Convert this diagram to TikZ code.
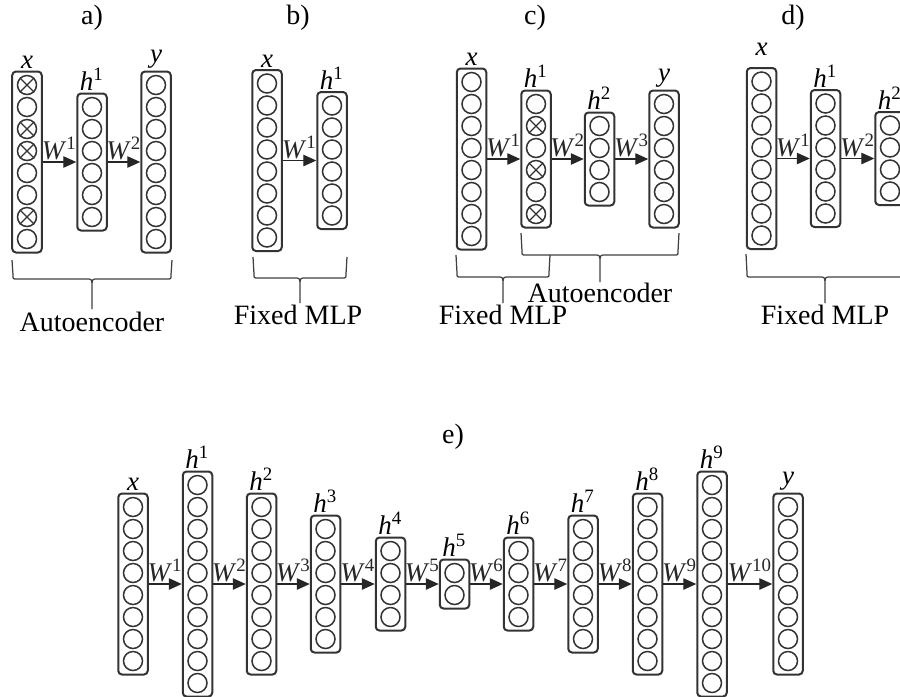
\documentclass[tikz,border=0pt]{standalone}
\usepackage{fontspec}
\setmainfont{Liberation Serif}
\usetikzlibrary{arrows.meta,calc}

\newcommand{\lab}[2]{\textit{#1}\textsuperscript{#2}}
% one layer: name, x, row y, number of units, label
\newcommand{\netlayer}[5]{%
  \node[layer, minimum height={(22*#4+5)*0.4pt}] (#1) at (#2,#3) {};
  \foreach \k in {1,...,#4}
    \node[unit] (#1-\k) at ($(#1.center)+(0,{(\k-(#4+1)/2)*22})$) {};
  \node[tag] (#1-tag) at (#1.north) {#5};
}
% crossed (dropped) unit
\newcommand{\dropunit}[1]{%
  \draw[line width=0.5pt, black!80] (#1.north west) -- (#1.south east)
    (#1.north east) -- (#1.south west);
}
% square-ish brace: x left, x right, y top, y bar, y tip
\newcommand{\bracket}[5]{%
  \draw[curly] (#1,#3) -- (#1+1,#4-4) .. controls (#1+1,#4) .. (#1+5,#4)
    -- ({(#1+#2)/2-5},#4) .. controls ({(#1+#2)/2},#4) .. ({(#1+#2)/2},#4+9)
    -- ({(#1+#2)/2},#5)
    ({(#1+#2)/2},#4+9) .. controls ({(#1+#2)/2},#4) .. ({(#1+#2)/2+5},#4)
    -- (#2-5,#4) .. controls (#2-1,#4) .. (#2-1,#4-4) -- (#2,#3);
}

\begin{document}
\begin{tikzpicture}[
  x=0.4pt,
  y=-0.4pt,
  >={Triangle[length=5.2pt,width=4.6pt]},
  layer/.style={draw=black!80, line width=0.8pt, rounded corners=1.5pt, minimum width=11.8pt, inner sep=0pt},
  unit/.style={draw=black!80, circle, line width=0.6pt, minimum size=7.6pt, inner sep=0pt},
  tag/.style={anchor=south, inner sep=0.6pt, font=\fontsize{10.8}{12}\selectfont},
  caption/.style={font=\fontsize{11.2}{13}\selectfont, inner sep=0pt},
  link/.style={->, line width=0.5pt, black!85},
  weight/.style={midway, above, inner sep=0.5pt, font=\fontsize{10.8}{12}\selectfont},
  curly/.style={line width=0.5pt, black!75}
]
\useasboundingbox (0,0) rectangle (900,696);
\clip (0,0) rectangle (900,696);

% a) autoencoder with corrupted input
\node[caption] (a-title) at (92,18) {a)};
\netlayer{a-x}{27}{162}{8}{\textit{x}}
\netlayer{a-h1}{92}{162}{6}{\lab{h}{1}}
\netlayer{a-y}{156}{162}{8}{\textit{y}}
\foreach \k in {1,3,4,7} {\dropunit{a-x-\k}}
\draw[link] (a-x.east) -- (a-h1.west) node[weight] {\lab{W}{1}};
\draw[link] (a-h1.east) -- (a-y.west) node[weight] {\lab{W}{2}};
\bracket{12}{172}{260}{279}{309}
\node[caption, anchor=base] (a-cap) at (92,331) {Autoencoder};

% b) fixed first layer
\node[caption] (b-title) at (298,18) {b)};
\netlayer{b-x}{267}{160.5}{8}{\textit{x}}
\netlayer{b-h1}{332}{160.5}{6}{\lab{h}{1}}
\draw[link] (b-x.east) -- (b-h1.west) node[weight] {\lab{W}{1}};
\bracket{253}{347}{257}{278}{303}
\node[caption, anchor=base] (b-cap) at (298,324) {Fixed MLP};

% c) second autoencoder on top
\node[caption] (c-title) at (535,18) {c)};
\netlayer{c-x}{471.5}{159}{8}{\textit{x}}
\netlayer{c-h1}{536}{159}{6}{\lab{h}{1}}
\netlayer{c-h2}{599.5}{159}{4}{\lab{h}{2}}
\netlayer{c-y}{664}{159}{6}{\textit{y}}
\foreach \k in {2,4,6} {\dropunit{c-h1-\k}}
\draw[link] (c-x.east) -- (c-h1.west) node[weight] {\lab{W}{1}};
\draw[link] (c-h1.east) -- (c-h2.west) node[weight] {\lab{W}{2}};
\draw[link] (c-h2.east) -- (c-y.west) node[weight] {\lab{W}{3}};
\bracket{456}{550}{255}{277}{303}
\bracket{521}{679}{233}{255}{282}
\node[caption, anchor=base] (c-cap1) at (503,324) {Fixed MLP};
\node[caption, anchor=base] (c-cap2) at (600,302) {Autoencoder};

% d) fixed two layers
\node[caption] (d-title) at (793,18) {d)};
\netlayer{d-x}{761.5}{158.5}{8}{\raisebox{4pt}{\textit{x}}}
\netlayer{d-h1}{825.5}{158.5}{6}{\lab{h}{1}}
\netlayer{d-h2}{890}{158.5}{4}{\lab{h}{2}}
\draw[link] (d-x.east) -- (d-h1.west) node[weight] {\lab{W}{1}};
\draw[link] (d-h1.east) -- (d-h2.west) node[weight] {\lab{W}{2}};
\bracket{746}{904}{254}{277}{303}
\node[caption, anchor=base] (d-cap) at (825,324) {Fixed MLP};

% e) deep stacked network
\node[caption] (e-title) at (453,437) {e)};
\foreach \nm/\cx/\n/\lb in {x/133/8/\textit{x}, h1/197.5/10/{\lab{h}{1}}, h2/261.5/8/{\lab{h}{2}},
    h3/325.5/6/{\lab{h}{3}}, h4/390.5/4/{\lab{h}{4}}, h5/454.5/2/{\lab{h}{5}},
    h6/518.5/4/{\lab{h}{6}}, h7/583/6/{\lab{h}{7}}, h8/647.5/8/{\lab{h}{8}},
    h9/712/10/{\lab{h}{9}}, y/788/8/\textit{y}}
  {\netlayer{e-\nm}{\cx}{584}{\n}{\lb}}
\foreach \a/\b/\i in {x/h1/1, h1/h2/2, h2/h3/3, h3/h4/4, h4/h5/5,
    h5/h6/6, h6/h7/7, h7/h8/8, h8/h9/9, h9/y/10}
  \draw[link] (e-\a.east) -- (e-\b.west) node[weight] {\lab{W}{\i}};
\end{tikzpicture}
\end{document}
